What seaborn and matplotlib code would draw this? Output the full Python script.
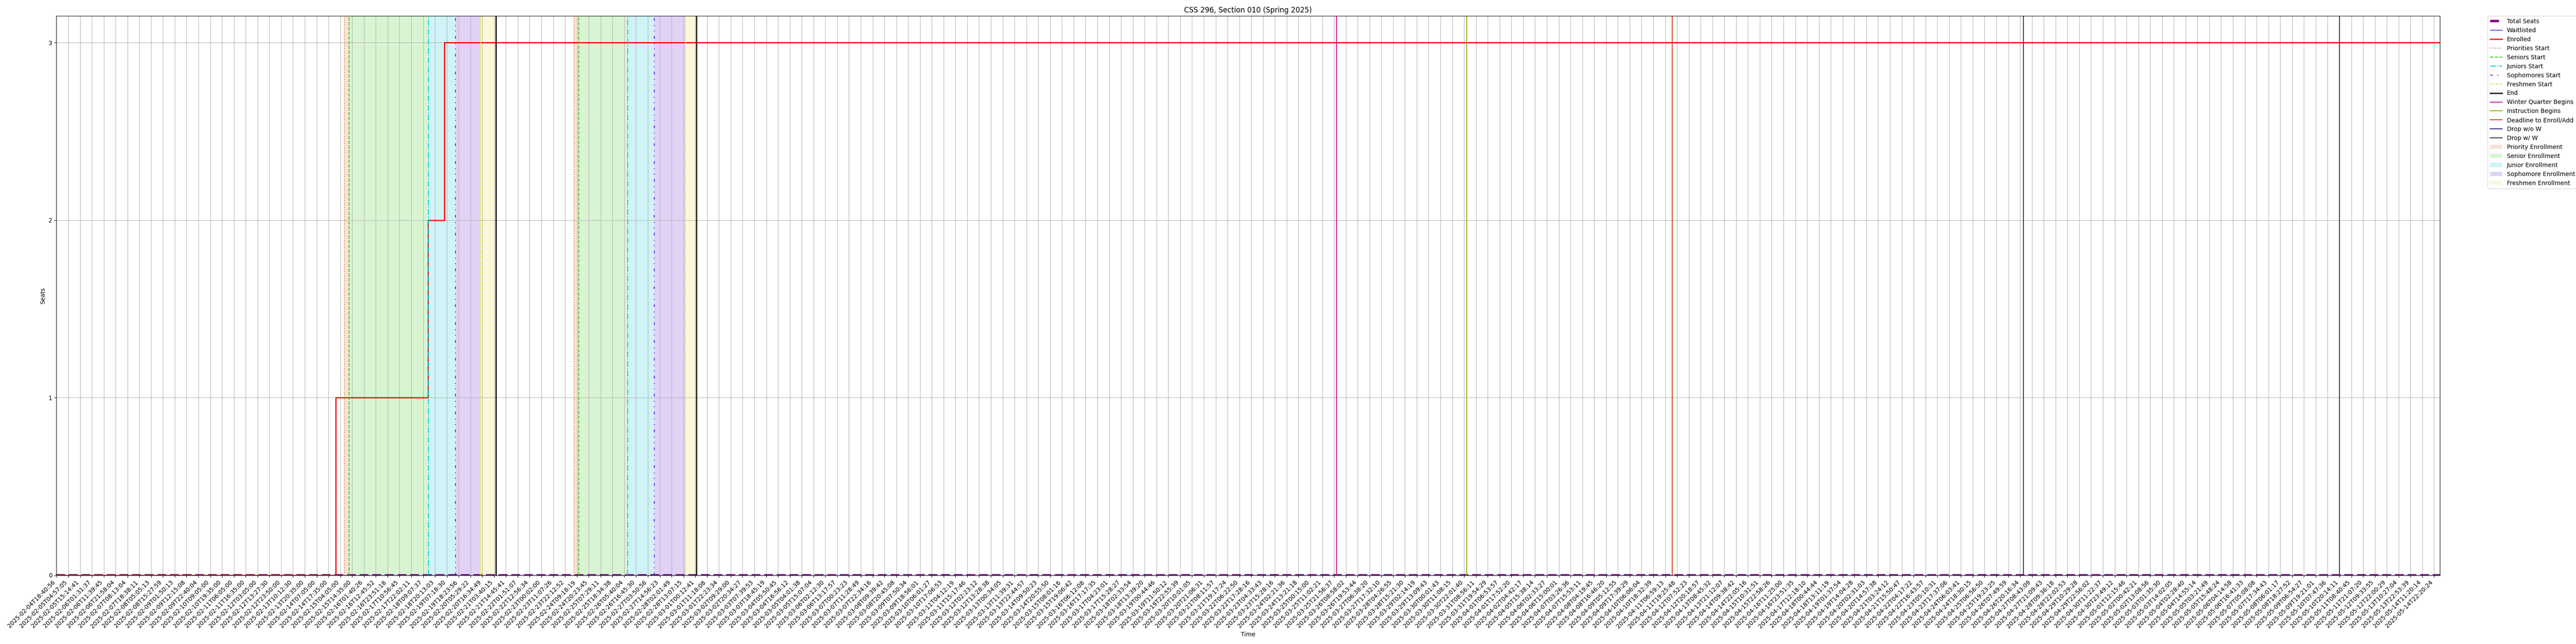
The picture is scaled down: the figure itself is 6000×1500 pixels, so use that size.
import matplotlib
matplotlib.use("Agg")
import matplotlib.pyplot as plt
import seaborn as sns
import pandas as pd

# x positions are measured in tick steps (one x tick label per step)
enrolled_x = [0, 23.6, 31.4, 32.8, 201.5]
enrolled = [0, 1, 2, 3, 3]
waitlist_x = [0, 201.5]
waitlisted = [0, 0]
seats_x = [0, 201.5]
total_seats = [0, 0]

start_labels = ["Priorities Start", "Seniors Start", "Juniors Start",
                "Sophomores Start", "Freshmen Start", "End"]
period_1 = [24.33, 24.74, 31.46, 33.75, 35.83, 37.16]
period_2 = [43.76, 44.16, 48.30, 50.55, 53.17, 54.10]
span_labels = ["Priority Enrollment", "Senior Enrollment", "Junior Enrollment",
               "Sophomore Enrollment", "Freshmen Enrollment"]

quarter_labels = ["Winter Quarter Begins", "Instruction Begins",
                  "Deadline to Enroll/Add", "Drop w/o W", "Drop w/ W"]
quarter_x = [108.2, 119.2, 136.6, 166.3, 193.0]

# tick labels; the ones in between are filled from these
n_ticks = 202
tick_anchors = {
    0: "2025-02-04T18:40:56", 1: "2025-02-05T04:57:05", 2: "2025-02-05T15:14:41",
    3: "2025-02-06T01:31:37", 4: "2025-02-06T11:39:45", 5: "2025-02-06T21:58:04",
    6: "2025-02-07T08:13:04", 7: "2025-02-07T18:38:11", 8: "2025-02-08T05:05:13",
    9: "2025-02-08T15:27:59", 10: "2025-02-09T01:50:13", 13: "2025-02-10T09:05:00",
    17: "2025-02-12T03:05:00", 21: "2025-02-13T20:35:00", 25: "2025-02-15T14:35:00",
    102: "2025-03-23T04:33:43", 103: "2025-03-23T15:28:16", 104: "2025-03-24T02:21:36",
    105: "2025-03-24T13:21:18", 106: "2025-03-25T00:15:00", 107: "2025-03-25T11:02:21",
    108: "2025-03-25T21:56:37", 109: "2025-03-26T08:58:02", 110: "2025-03-26T19:53:44",
    111: "2025-03-27T06:38:20", 112: "2025-03-27T17:32:10", 113: "2025-03-28T04:26:55",
    114: "2025-03-28T15:21:30", 115: "2025-03-29T02:14:19", 116: "2025-03-29T13:09:43",
    117: "2025-03-30T00:01:43", 118: "2025-03-30T11:08:15", 119: "2025-03-30T22:01:40",
    120: "2025-03-31T08:56:11", 121: "2025-03-31T19:54:29", 122: "2025-04-01T06:53:57",
    123: "2025-04-01T17:52:20", 124: "2025-04-02T04:42:17", 125: "2025-04-05T15:38:14",
    126: "2025-04-06T02:33:27", 200: "2025-05-14T11:20:14", 201: "2025-05-14T22:20:24",
}

start_colors = ["#e87138", "#3cc81e", "#12c7d6", "#6a22d4", "#e3e13c", "black"]
start_styles = [":", "--", "-.", (0, (3, 5, 1, 5, 1, 5)), (0, (3, 1, 1, 1)), "-"]
start_widths = [1.5, 1.5, 1.5, 1.5, 1.5, 2]
quarter_colors = ["#d6139a", "#86b31b", "#d2431f", "#2c2a8a", "#2e3b5b"]


def build_tick_labels():
    keys = sorted(tick_anchors)
    stamps = {k: pd.Timestamp(tick_anchors[k]) for k in keys}
    labels = []
    for i in range(n_ticks):
        if i in stamps:
            t = stamps[i]
        else:
            lo = max(k for k in keys if k < i)
            hi = min(k for k in keys if k > i)
            t = stamps[lo] + (stamps[hi] - stamps[lo]) * (i - lo) / (hi - lo)
        labels.append(t.strftime("%Y-%m-%dT%H:%M:%S"))
    return labels


fig = plt.figure(figsize=(60, 15), dpi=100)
ax = fig.add_subplot(111)
fig.subplots_adjust(left=0.0219, right=0.9472, bottom=0.107, top=0.9751)

sns.lineplot(x=seats_x, y=total_seats, ax=ax, color="purple", lw=4, ls="--",
             label="Total Seats")
sns.lineplot(x=waitlist_x, y=waitlisted, ax=ax, color="blue", lw=1,
             label="Waitlisted")
sns.lineplot(x=enrolled_x, y=enrolled, ax=ax, color="red", lw=2,
             drawstyle="steps-post", label="Enrolled")

# start / end markers of both registration periods
for period, first in ((period_1, True), (period_2, False)):
    for j, xpos in enumerate(period):
        ax.axvline(xpos, color=start_colors[j], ls=start_styles[j], lw=start_widths[j],
                   label=start_labels[j] if first else "_nolegend_")

for xpos, lab, col in zip(quarter_x, quarter_labels, quarter_colors):
    ax.axvline(xpos, color=col, lw=1.5, label=lab)

# shaded enrollment windows
for period, first in ((period_1, True), (period_2, False)):
    for j in range(len(span_labels)):
        ax.axvspan(period[j], period[j + 1], color=start_colors[j], alpha=0.2, lw=0,
                   label=span_labels[j] if first else "_nolegend_")

ax.set_xlim(0, 201.5)
ax.set_ylim(0, 3.15)
ax.set_yticks([0, 1, 2, 3])
ax.set_xticks(range(n_ticks))
ax.set_xticklabels(build_tick_labels(), rotation=45, ha="right")
ax.grid(True)
ax.set_title("CSS 296, Section 010 (Spring 2025)")
ax.set_xlabel("Time")
ax.set_ylabel("Seats")
ax.legend(bbox_to_anchor=(1.02, 1), loc="upper left", borderaxespad=0)

fig.savefig("out.png")
